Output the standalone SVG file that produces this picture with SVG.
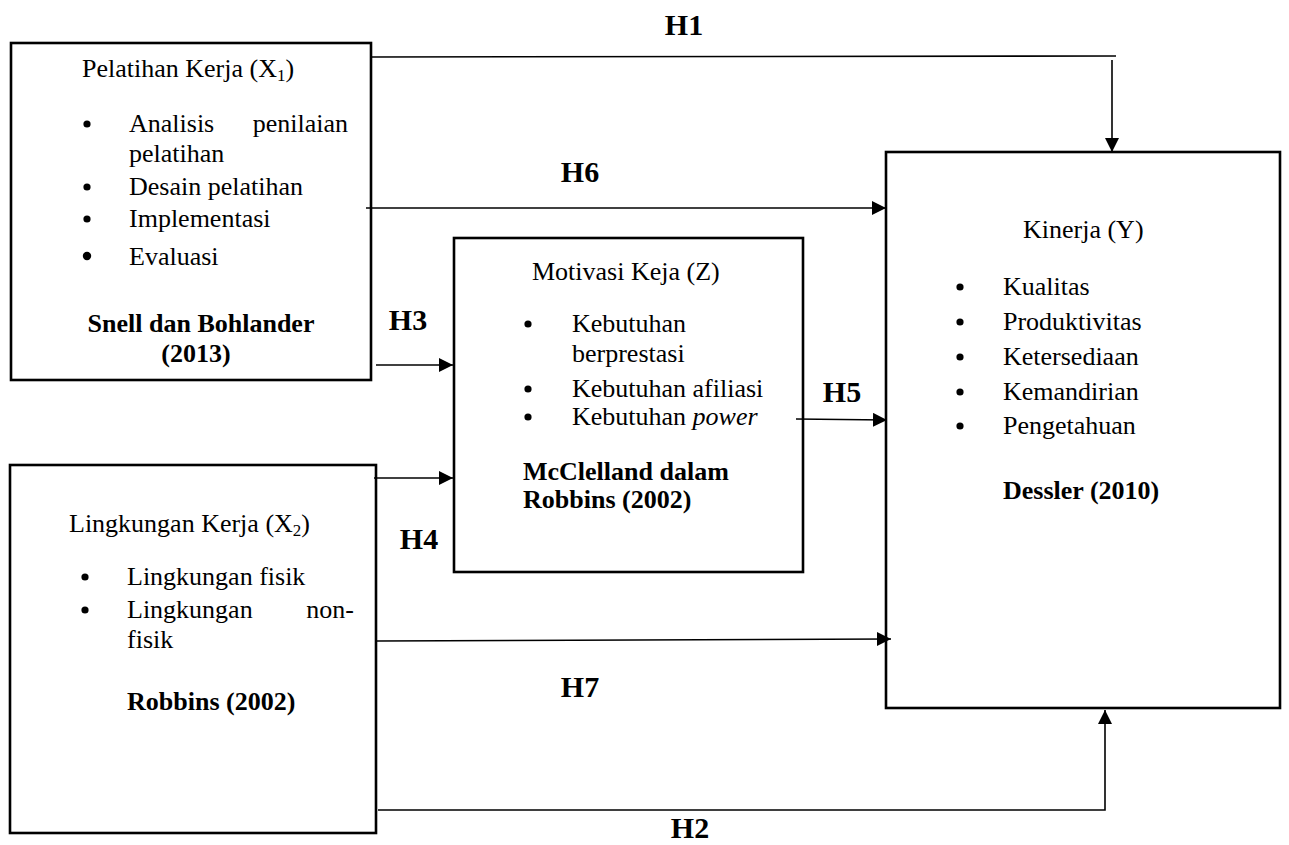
<svg xmlns="http://www.w3.org/2000/svg" width="1289" height="845" viewBox="0 0 1289 845">
<style>
text{font-family:"Liberation Serif","Times New Roman",serif;fill:#000}
.t{font-size:26px}
.b{font-size:26px;font-weight:bold}
.h{font-size:30px;font-weight:bold}
.box{fill:#fff;stroke:#000;stroke-width:2.6}
.c{fill:none;stroke:#000;stroke-width:1.6}
.d{fill:#000}
</style>
<defs>
<marker id="ah" markerUnits="userSpaceOnUse" markerWidth="16" markerHeight="16" refX="14" refY="7" orient="auto">
<path d="M0,0 L14,7 L0,14 Z" fill="#000"/>
</marker>
</defs>
<rect width="1289" height="845" fill="#fff"/>

<g id="x1">
<rect class="box" x="11" y="43" width="360" height="337"/>
<text class="t" x="82" y="77">Pelatihan Kerja (X<tspan font-size="17" dy="4">1</tspan><tspan dy="-4">)</tspan></text>
<circle class="d" cx="87" cy="124" r="3.6"/>
<text class="t" x="129" y="132">Analisis</text>
<text class="t" x="348" y="132" text-anchor="end">penilaian</text>
<text class="t" x="129" y="162">pelatihan</text>
<circle class="d" cx="87" cy="187" r="3.6"/>
<text class="t" x="129" y="195">Desain pelatihan</text>
<circle class="d" cx="87" cy="219" r="3.6"/>
<text class="t" x="129" y="227">Implementasi</text>
<circle class="d" cx="87" cy="256" r="4.2"/>
<text class="t" x="129" y="265">Evaluasi</text>
<text class="b" x="201" y="332" text-anchor="middle">Snell dan Bohlander</text>
<text class="b" x="196" y="362" text-anchor="middle">(2013)</text>
</g>

<g id="x2">
<rect class="box" x="10" y="465" width="366" height="368"/>
<text class="t" x="69" y="532">Lingkungan Kerja (X<tspan font-size="17" dy="4">2</tspan><tspan dy="-4">)</tspan></text>
<circle class="d" cx="85" cy="577" r="3.6"/>
<text class="t" x="127" y="585">Lingkungan fisik</text>
<circle class="d" cx="85" cy="610" r="3.6"/>
<text class="t" x="127" y="618">Lingkungan</text>
<text class="t" x="354" y="618" text-anchor="end">non-</text>
<text class="t" x="127" y="648">fisik</text>
<text class="b" x="127" y="710">Robbins (2002)</text>
</g>

<g id="z">
<rect class="box" x="454" y="238" width="349" height="334"/>
<text class="t" x="532" y="280">Motivasi Keja (Z)</text>
<circle class="d" cx="528" cy="324" r="3.6"/>
<text class="t" x="572" y="332">Kebutuhan</text>
<text class="t" x="572" y="362">berprestasi</text>
<circle class="d" cx="528" cy="389" r="3.6"/>
<text class="t" x="572" y="397">Kebutuhan afiliasi</text>
<circle class="d" cx="528" cy="417" r="3.6"/>
<text class="t" x="572" y="425">Kebutuhan <tspan font-style="italic">power</tspan></text>
<text class="b" x="523" y="480">McClelland dalam</text>
<text class="b" x="523" y="508">Robbins (2002)</text>
</g>

<g id="y">
<rect class="box" x="886" y="152" width="394" height="556"/>
<text class="t" x="1023" y="238">Kinerja (Y)</text>
<circle class="d" cx="960" cy="287" r="3.6"/>
<text class="t" x="1003" y="295">Kualitas</text>
<circle class="d" cx="960" cy="322" r="3.6"/>
<text class="t" x="1003" y="330">Produktivitas</text>
<circle class="d" cx="960" cy="357" r="3.6"/>
<text class="t" x="1003" y="365">Ketersediaan</text>
<circle class="d" cx="960" cy="392" r="3.6"/>
<text class="t" x="1003" y="400">Kemandirian</text>
<circle class="d" cx="960" cy="426" r="3.6"/>
<text class="t" x="1003" y="434">Pengetahuan</text>
<text class="b" x="1003" y="499">Dessler (2010)</text>
</g>

<g id="connectors">
<path class="c" d="M371,57 L1116,56"/>
<path class="c" d="M1112,60 L1112,152" marker-end="url(#ah)"/>
<path class="c" d="M366,208 L886,208" marker-end="url(#ah)"/>
<path class="c" d="M376,365 L453,365" marker-end="url(#ah)"/>
<path class="c" d="M374,478 L453,478" marker-end="url(#ah)"/>
<path class="c" d="M796,419 L887,420" marker-end="url(#ah)"/>
<path class="c" d="M377,641 L891,639" marker-end="url(#ah)"/>
<path class="c" d="M378,810 L1105,810 L1105,710" marker-end="url(#ah)"/>
</g>

<g id="labels">
<text class="h" x="684" y="35" text-anchor="middle">H1</text>
<text class="h" x="580" y="182" text-anchor="middle">H6</text>
<text class="h" x="408" y="330" text-anchor="middle">H3</text>
<text class="h" x="419" y="549" text-anchor="middle">H4</text>
<text class="h" x="842" y="402" text-anchor="middle">H5</text>
<text class="h" x="580" y="697" text-anchor="middle">H7</text>
<text class="h" x="690" y="838" text-anchor="middle">H2</text>
</g>
</svg>
